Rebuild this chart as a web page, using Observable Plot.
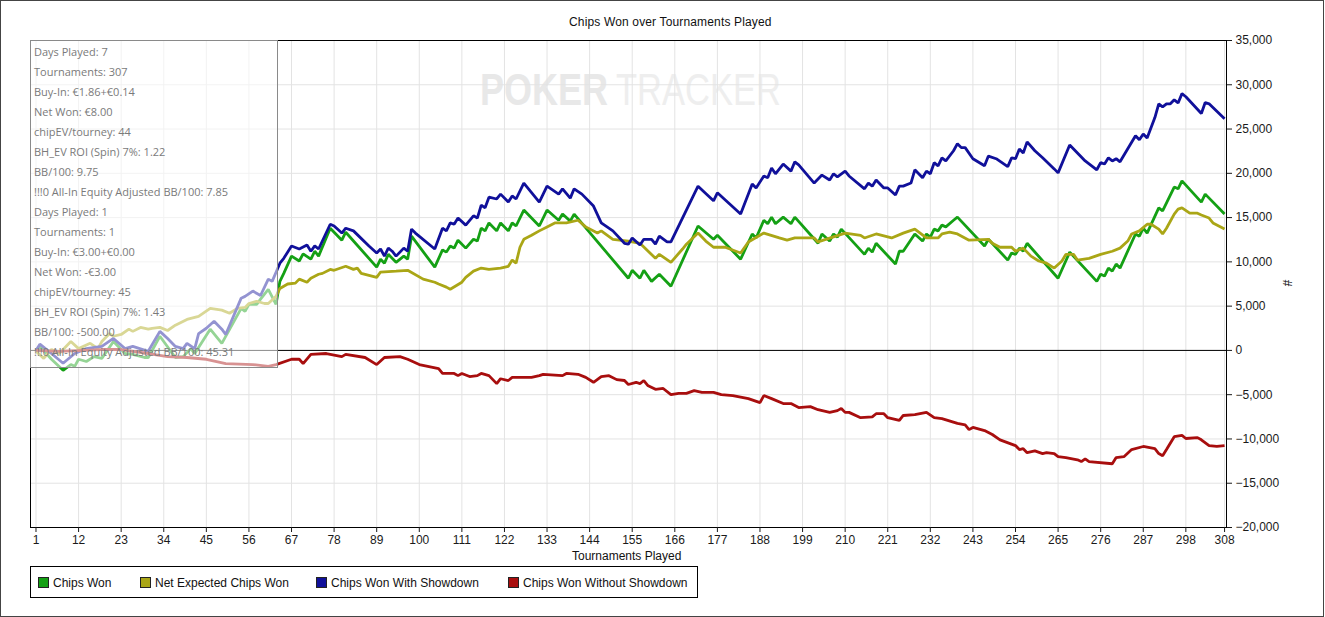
<!DOCTYPE html>
<html>
<head>
<meta charset="utf-8">
<script src="https://cdn.jsdelivr.net/npm/d3@7"></script>
<script src="https://cdn.jsdelivr.net/npm/@observablehq/plot@0.6"></script>
<style>
html, body { margin: 0; padding: 0; background: #fff; }
#wrap { position: relative; width: 1325px; height: 617px; overflow: hidden; font-family: "Liberation Sans", Arial, sans-serif; color: #111; }
#outer { position: absolute; left: 0; top: 0; width: 1324px; height: 617px; box-sizing: border-box; border: 1px solid #444; pointer-events: none; z-index: 5; }
#wm { position: absolute; left: 0; top: 0; z-index: 0; }
#chart { position: absolute; left: 0; top: 0; z-index: 1; }
#title { position: absolute; left: 569px; top: 15px; font-size: 12px; line-height: 14px; white-space: nowrap; z-index: 2; letter-spacing: 0.15px; }
#xlabel { position: absolute; left: 572px; top: 549px; font-size: 12px; line-height: 14px; white-space: nowrap; z-index: 2; }
#ylabel { position: absolute; left: 1284px; top: 276px; font-size: 12px; line-height: 14px; transform: rotate(90deg); z-index: 2; }
#legend { position: absolute; left: 30px; top: 566px; width: 668px; height: 32px; box-sizing: border-box; border: 1px solid #000; z-index: 2; background: #fff; }
.lg { position: absolute; top: 9px; font-size: 12px; line-height: 14px; white-space: nowrap; }
.sw { display: inline-block; width: 9px; height: 9px; border: 1px solid #222; vertical-align: -1px; margin-right: 4px; }
#tip { position: absolute; left: 30px; top: 40px; width: 248px; height: 328px; box-sizing: border-box; border: 1px solid #8a8a8a; background: rgba(255,255,255,0.55); z-index: 3; font-family: "Open Sans", "Noto Sans", sans-serif; font-size: 11px; color: #7a7a7a; }
.tl { position: absolute; left: 3px; height: 20px; line-height: 20px; white-space: nowrap; }
</style>
</head>
<body>
<div id="wrap">
  <svg id="wm" width="1325" height="617"></svg>
  <div id="chart"></div>
  <div id="title"></div>
  <div id="xlabel"></div>
  <div id="ylabel">#</div>
  <div id="legend"></div>
  <div id="tip"></div>
  <div id="outer"></div>
</div>
<script>
// ---------- data (tournament number, chips) ----------
const titleText = "Chips Won over Tournaments Played";
const xLabelText = "Tournaments Played";
const xTicks = [1, 12, 23, 34, 45, 56, 67, 78, 89, 100, 111, 122, 133, 144, 155, 166, 177, 188, 199, 210, 221, 232, 243, 254, 265, 276, 287, 298, 308];
const yTicks = [-20000, -15000, -10000, -5000, 0, 5000, 10000, 15000, 20000, 25000, 30000, 35000];
const seriesNames = ["Chips Won", "Net Expected Chips Won", "Chips Won With Showdown", "Chips Won Without Showdown"];
const seriesColors = ["#14a014", "#aaa616", "#10109a", "#a80e0e"];

const chipsWon = [[1,0],[2,450],[5,-1000],[8,-2250],[10,-1600],[11,-1800],[12,-1000],[14,-1250],[16,-700],[18,-900],[21,1000],[24,-350],[26,-450],[29,-800],[30,-800],[33,1600],[37,-800],[39,-700],[41,200],[42,-350],[46,2400],[49,800],[54,4750],[55,4400],[56,5200],[58,5200],[59,5800],[61,6900],[63,5200],[64,7800],[65,8700],[67,10650],[69,10100],[70,10900],[72,10300],[73,11200],[74,10650],[77,13800],[80,12450],[81,13350],[89,9400],[90,10300],[91,9850],[92,10850],[94,9950],[96,10650],[97,10300],[98,12900],[104,9400],[106,11350],[107,11100],[108,11800],[109,11550],[110,12450],[112,11550],[114,12550],[115,12350],[116,13800],[117,13500],[118,14400],[120,13500],[121,14400],[123,13500],[124,14400],[125,14050],[127,15850],[131,14050],[133,15850],[136,14700],[137,15400],[139,14600],[140,15400],[154,8150],[155,9050],[157,8150],[158,9050],[160,7800],[162,8600],[165,7250],[172,14050],[176,12550],[177,13000],[183,10300],[186,13150],[187,12700],[189,14700],[190,14300],[191,15050],[192,14300],[194,15050],[196,14300],[197,15050],[203,12100],[204,13150],[206,12350],[207,13150],[208,12800],[209,13700],[215,10850],[216,11550],[217,11100],[218,12100],[223,9750],[224,11200],[225,11200],[228,13150],[230,12350],[231,13150],[232,12800],[233,13700],[234,13500],[235,14150],[236,13950],[238,14700],[239,15050],[246,11800],[247,12550],[252,10200],[253,11000],[254,10850],[255,11550],[256,11200],[257,12100],[265,8150],[268,11100],[275,7800],[276,8600],[277,8400],[278,9300],[279,8950],[280,9750],[281,9300],[285,13150],[286,12900],[287,13800],[288,13250],[291,16100],[292,15750],[295,18450],[296,18250],[297,19150],[302,16750],[303,17650],[308,15400]];

const netExpected = [[1,-100],[3,-900],[5,100],[7,-350],[10,1000],[12,200],[15,800],[17,200],[18,1000],[20,1900],[21,1600],[23,1800],[25,2400],[26,2150],[28,2600],[30,2400],[31,2500],[33,2600],[35,2250],[37,2850],[40,3500],[43,3850],[46,4750],[49,4550],[51,4200],[53,4750],[55,4850],[56,5300],[58,5550],[60,5300],[61,5300],[63,6100],[64,7000],[66,7500],[68,7600],[69,8050],[71,7700],[72,8150],[74,8600],[75,8700],[77,9150],[78,9050],[81,9500],[83,9150],[84,9300],[85,8700],[89,8250],[90,8850],[94,8950],[97,9050],[101,8050],[104,7700],[105,7500],[107,7150],[108,6900],[111,7700],[112,8250],[114,8950],[116,9300],[118,9150],[121,9300],[123,9500],[124,10200],[125,9850],[126,11650],[127,12550],[129,13000],[131,13500],[133,13950],[135,14400],[138,14400],[141,14700],[143,13950],[146,13250],[147,13500],[150,12550],[154,12350],[157,12100],[161,10400],[162,10850],[165,9950],[168,11450],[169,12000],[172,13250],[174,12350],[176,11650],[179,11650],[183,11000],[185,12250],[189,13250],[193,12700],[195,12450],[197,12700],[202,12700],[203,12250],[210,13250],[214,13000],[215,12700],[218,13150],[222,12700],[225,13250],[228,13700],[231,12700],[234,12700],[235,13150],[237,13350],[239,13150],[242,12450],[247,12550],[248,12100],[250,11650],[253,11650],[254,11200],[256,11550],[258,10650],[260,10100],[262,9850],[264,9300],[266,10100],[267,10850],[269,10850],[270,10200],[273,10400],[276,10850],[279,11200],[281,11550],[283,12350],[284,13150],[286,13500],[288,14250],[289,14250],[291,13700],[292,13150],[293,13800],[295,15400],[296,15950],[297,16100],[299,15500],[301,15500],[302,15300],[304,14950],[305,14400],[308,13700]];

const withShowdown = [[1,0],[2,700],[5,-350],[8,-1450],[11,-350],[14,200],[18,450],[21,1350],[24,200],[26,450],[30,-100],[33,2150],[35,1350],[37,450],[39,200],[40,800],[42,200],[43,1900],[45,2500],[47,3300],[49,2400],[50,1800],[54,5900],[55,6100],[57,6700],[59,6200],[61,8050],[62,7800],[64,9850],[65,10400],[67,11800],[69,11450],[71,11900],[72,11200],[73,11800],[74,11450],[77,14250],[78,14050],[80,13250],[81,13800],[83,13500],[87,11800],[89,11000],[90,11450],[91,10650],[92,11550],[93,11200],[94,10650],[96,11550],[97,11200],[98,13700],[99,13250],[104,11450],[106,13800],[107,13500],[108,14400],[109,14250],[110,14950],[112,14150],[114,15200],[115,14950],[116,16400],[117,16100],[118,17300],[120,17100],[121,17650],[123,16750],[124,17450],[125,17100],[127,18900],[131,16750],[133,18550],[136,17650],[137,18250],[139,17200],[140,18250],[142,17650],[145,16300],[147,14400],[150,13500],[153,12100],[154,12000],[155,12700],[157,11900],[158,12550],[160,12550],[161,12000],[162,12900],[164,12250],[165,12250],[172,18550],[176,16900],[177,17800],[183,15400],[186,18800],[187,18350],[189,19700],[190,19500],[191,20600],[192,19950],[194,21050],[196,20250],[197,21300],[198,20950],[202,18900],[204,19800],[206,19250],[207,19950],[208,19600],[210,20250],[211,19700],[215,18250],[216,18900],[217,18550],[218,19250],[220,18350],[221,18350],[223,17550],[224,18550],[225,18550],[227,18900],[228,20400],[230,19500],[231,20250],[232,19950],[233,21200],[234,20850],[235,21750],[236,21400],[238,22550],[239,23350],[240,22900],[241,22900],[243,21650],[246,20850],[247,21950],[249,21650],[252,20750],[253,21750],[254,21650],[255,22750],[256,22300],[257,23550],[259,22550],[261,21750],[264,20500],[265,20050],[268,23200],[269,22750],[272,21400],[275,20400],[276,21200],[277,21050],[278,21750],[279,21400],[280,21650],[281,21300],[285,24250],[286,23800],[287,24450],[288,24000],[290,26300],[291,27850],[292,27500],[293,27850],[294,27850],[295,28300],[296,27950],[297,29000],[298,28650],[302,26750],[303,28000],[304,27850],[308,26150]];

const withoutShowdown = [[1,0],[7,-100],[18,100],[23,100],[30,-350],[35,-700],[40,-800],[45,-1000],[50,-1500],[57,-1600],[61,-1800],[63,-1600],[67,-1000],[69,-1000],[70,-1500],[72,-450],[76,-350],[80,-700],[81,-450],[86,-800],[89,-1600],[91,-800],[95,-700],[97,-1000],[100,-1600],[105,-2050],[106,-2600],[109,-2600],[110,-2850],[111,-2600],[113,-2950],[115,-2850],[116,-2600],[118,-2850],[120,-3750],[121,-3200],[123,-3400],[124,-3050],[129,-3050],[131,-2850],[132,-2700],[137,-2850],[138,-2600],[141,-2700],[143,-3050],[145,-3600],[147,-2950],[149,-2850],[151,-3300],[153,-3400],[154,-3850],[156,-3600],[157,-3750],[158,-3400],[159,-3950],[161,-4400],[163,-4300],[165,-5000],[167,-4850],[169,-4850],[171,-4550],[173,-4750],[176,-4750],[178,-5000],[181,-5100],[185,-5450],[188,-5900],[189,-5100],[191,-5450],[194,-6000],[196,-6000],[198,-6450],[201,-6350],[203,-6700],[206,-7000],[208,-6800],[209,-6550],[210,-7000],[211,-7000],[214,-7600],[217,-7500],[218,-7150],[220,-7150],[221,-7600],[224,-7900],[225,-7350],[228,-7250],[231,-7000],[233,-7600],[235,-7700],[239,-8250],[241,-8400],[242,-8950],[243,-8700],[246,-9050],[248,-9500],[250,-10100],[254,-10750],[255,-11200],[256,-11100],[257,-11550],[259,-11350],[261,-11650],[262,-11550],[264,-11650],[265,-12000],[267,-12100],[270,-12350],[271,-12550],[272,-12250],[273,-12550],[279,-12800],[280,-12100],[282,-12000],[284,-11200],[287,-10850],[290,-11100],[291,-11650],[292,-11900],[293,-11200],[295,-9750],[297,-9600],[298,-9950],[301,-9850],[302,-10100],[304,-10750],[306,-10850],[308,-10750]];

const tooltipLines = [
  "Days Played: 7", "Tournaments: 307", "Buy-In: €1.86+€0.14", "Net Won: €8.00",
  "chipEV/tourney: 44", "BH_EV ROI (Spin) 7%: 1.22", "BB/100: 9.75",
  "!!!0 All-In Equity Adjusted BB/100: 7.85",
  "Days Played: 1", "Tournaments: 1", "Buy-In: €3.00+€0.00", "Net Won: -€3.00",
  "chipEV/tourney: 45", "BH_EV ROI (Spin) 7%: 1.43", "BB/100: -500.00",
  "!!!0 All-In Equity Adjusted BB/100: 45.31"
];
const watermarkParts = ["POKER", "TRACKER"];

// ---------- build ----------
const allSeries = [chipsWon, netExpected, withShowdown, withoutShowdown];
const toRows = (arr, name) => arr.map(([t, v]) => ({t, v, series: name}));

const lineMarks = allSeries.map((s, i) =>
  Plot.line(toRows(s, seriesNames[i]), {
    x: "t", y: "v", stroke: seriesColors[i], strokeWidth: 2.8,
    strokeLinejoin: "miter", strokeLinecap: "butt", curve: "linear"
  })
);

const chart = Plot.plot({
  width: 1325,
  height: 617,
  marginLeft: 30,
  marginRight: 99,
  marginTop: 40,
  marginBottom: 90,
  style: { background: "transparent", fontFamily: "Liberation Sans, Arial, sans-serif", fontSize: "12px", color: "#1a1a1a", overflow: "visible" },
  x: { domain: [-0.42, 308.5] },
  y: { domain: [-20000, 35000] },
  marks: [
    Plot.gridX(xTicks, { stroke: "#e3e3e3", strokeOpacity: 1 }),
    Plot.gridY(yTicks, { stroke: "#e3e3e3", strokeOpacity: 1 }),
    Plot.ruleY([0], { stroke: "#000", strokeWidth: 1 }),
    ...lineMarks,
    Plot.frame({ stroke: "#000" }),
    Plot.axisX({ ticks: xTicks, tickSize: 5, tickPadding: 3, tickFormat: d => String(d), label: null, fontSize: 12 }),
    Plot.axisY({ ticks: yTicks, anchor: "right", tickSize: 5, tickPadding: 4, tickFormat: d3.format(","), label: null, fontSize: 12 })
  ]
});
document.getElementById("chart").appendChild(chart);

// title / axis label
document.getElementById("title").textContent = titleText;
document.getElementById("xlabel").textContent = xLabelText;

// watermark: bold "POKER" and regular "TRACKER"; natural widths fit, stretched vertically
const wm = d3.select("#wm");
wm.append("text").attr("transform", "translate(480,105) scale(1,1.25)")
  .attr("font-family", "Liberation Sans, Arial, sans-serif").attr("font-size", 36).attr("font-weight", "bold")
  .attr("fill", "#e8e8e8").text(watermarkParts[0]);
wm.append("text").attr("transform", "translate(616,105) scale(1,1.3)")
  .attr("font-family", "Liberation Sans, Arial, sans-serif").attr("font-size", 34.5)
  .attr("fill", "#eeeeee").text(watermarkParts[1]);

// legend
const legendX = [7, 109, 285, 477];
const legend = document.getElementById("legend");
seriesNames.forEach((n, i) => {
  const d = document.createElement("div");
  d.className = "lg";
  d.style.left = legendX[i] + "px";
  d.innerHTML = `<span class="sw" style="background:${seriesColors[i]}"></span>`;
  d.appendChild(document.createTextNode(n));
  legend.appendChild(d);
});

// tooltip
const tip = document.getElementById("tip");
tooltipLines.forEach((s, i) => {
  const d = document.createElement("div");
  d.className = "tl";
  d.style.top = (1 + i * 20) + "px";
  d.textContent = s;
  tip.appendChild(d);
});
</script>
</body>
</html>
